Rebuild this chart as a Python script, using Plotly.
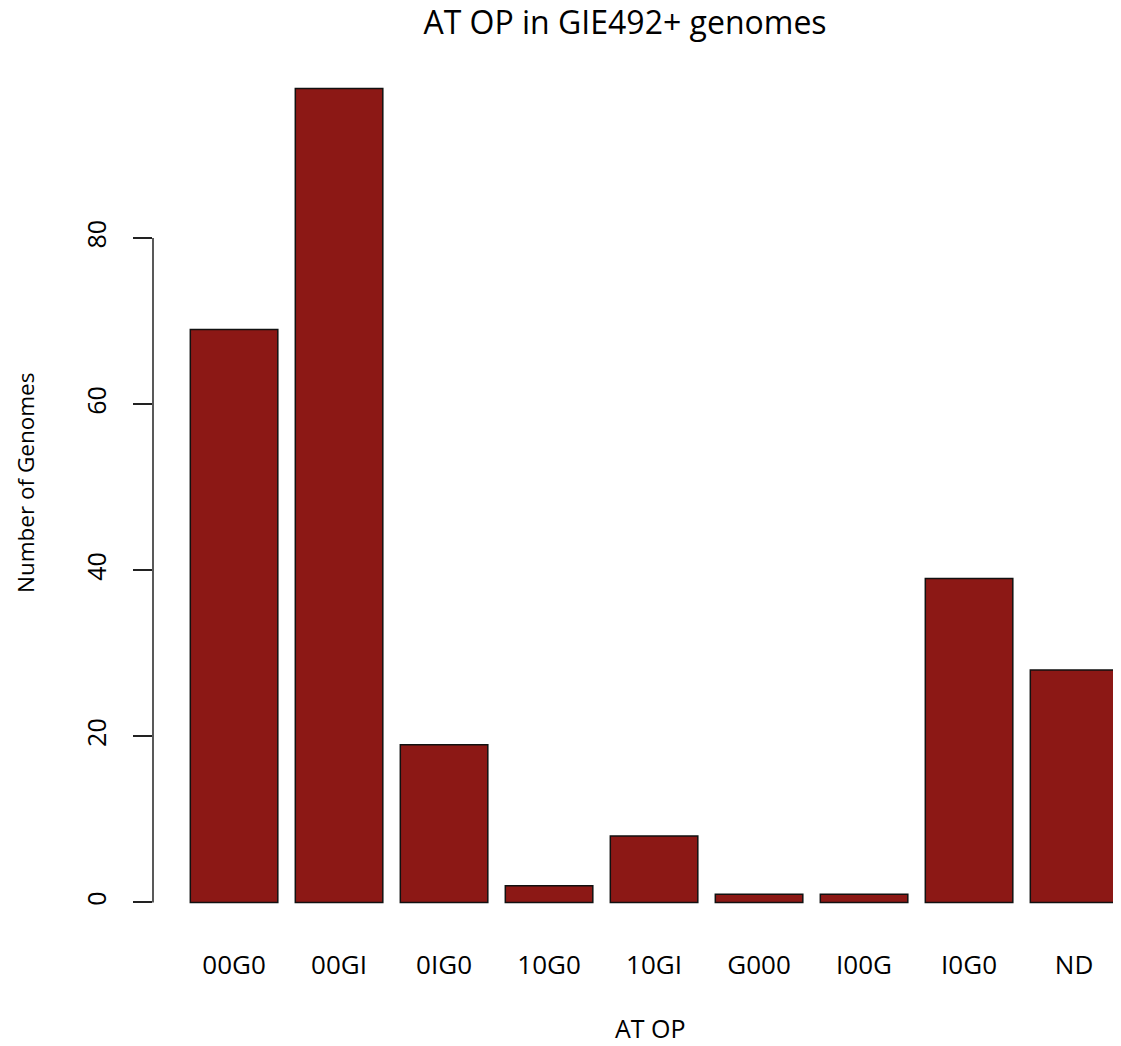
import plotly.graph_objects as go

categories = ["00G0", "00GI", "0IG0", "10G0", "10GI", "G000", "I00G", "I0G0", "ND"]
counts = [69, 98, 19, 2, 8, 1, 1, 39, 28]
y_ticks = [0, 20, 40, 60, 80]

FONT = "Open Sans"
# the page places the figure 8px in from the top-left corner
OFF = 8
W, H = 1121 - OFF, 1046 - OFF
ML, MR, MT, MB = 153 - OFF, 0, 56 - OFF, 111

positions = list(range(len(categories)))

fig = go.Figure(
    go.Bar(
        x=positions,
        y=counts,
        width=1 / 1.2,
        marker=dict(color="#8C1815", line=dict(color="#111111", width=1.5)),
        hoverinfo="x+y",
    )
)

fig.update_layout(
    width=W,
    height=H,
    margin=dict(l=ML, r=MR, t=MT, b=MB, autoexpand=False),
    paper_bgcolor="white",
    plot_bgcolor="white",
    showlegend=False,
    font=dict(family=FONT, color="black"),
    title=dict(
        text="AT OP in GIE492+ genomes",
        x=(625 - OFF) / W,
        xanchor="center",
        y=1 - (23 - OFF) / H,
        yanchor="middle",
        font=dict(size=32, family=FONT, color="black"),
    ),
    xaxis=dict(
        range=[-0.772, 8.447],
        tickvals=positions,
        ticktext=categories,
        showgrid=False,
        zeroline=False,
        showline=False,
        ticks="",
        ticklabelstandoff=12,
        tickfont=dict(size=26, family=FONT, color="black"),
        fixedrange=True,
    ),
    yaxis=dict(
        range=[-3.92, 101.92],
        tickvals=y_ticks,
        ticktext=[str(v) for v in y_ticks],
        showgrid=False,
        zeroline=False,
        showline=False,
        ticks="outside",
        ticklen=19,
        tickwidth=1.5,
        tickcolor="#222222",
        tickangle=-90,
        ticklabelstandoff=17,
        tickfont=dict(size=25, family=FONT, color="black"),
        fixedrange=True,
    ),
    shapes=[
        dict(
            type="line",
            xref="paper",
            yref="y",
            x0=0,
            x1=0,
            y0=y_ticks[0],
            y1=y_ticks[-1],
            line=dict(color="#222222", width=1.5),
        )
    ],
    annotations=[
        dict(
            text="AT OP",
            xref="paper",
            yref="paper",
            x=(650 - ML - OFF) / (W - ML - MR),
            y=0,
            yshift=-((1028 - OFF) - (H - MB)),
            xanchor="center",
            yanchor="middle",
            showarrow=False,
            font=dict(size=25, family=FONT, color="black"),
        ),
        dict(
            text="Number of Genomes",
            xref="paper",
            yref="paper",
            x=0,
            xshift=-(ML - (25 - OFF)),
            y=0,
            yshift=(H - MB) - (483 - OFF),
            xanchor="center",
            yanchor="middle",
            textangle=-90,
            showarrow=False,
            font=dict(size=22.5, family=FONT, color="black"),
        ),
    ],
)

fig.write_html("out.html")
